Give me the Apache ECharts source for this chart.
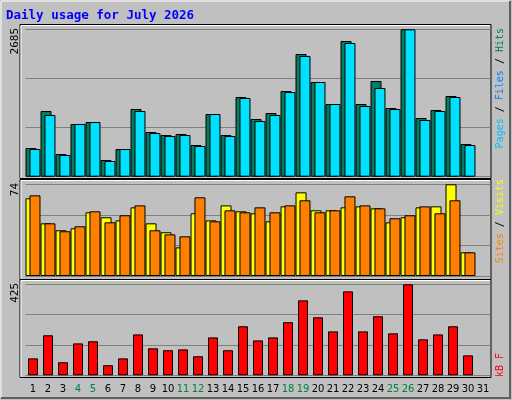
<!DOCTYPE html>
<html><head><meta charset="utf-8">
<script src="https://cdn.jsdelivr.net/npm/echarts@6/dist/echarts.min.js"></script>
<style>html,body{margin:0;padding:0;background:#c0c0c0}#c{width:512px;height:400px}</style>
</head><body><div id="c"></div>
<script>
const days = Array.from({length:31},(_,i)=>String(i+1));
const weekendDays = ['4','5','11','12','18','19','25','26'];
const hits  = [522,1197,413,960,996,304,504,1233,814,759,778,577,1142,759,1452,1051,1160,1561,2235,1725,1324,2472,1324,1743,1251,2685,1069,1215,1470,595,null];
const files = [504,1124,395,960,996,286,504,1197,796,741,759,559,1142,741,1434,1014,1124,1543,2199,1725,1324,2436,1288,1616,1233,2685,1033,1197,1452,577,null];
const visits= [62.7,42.5,36.9,38.5,51.4,47.4,44.9,55.4,42.5,35.3,23.1,50.6,44.9,57,52.2,50.6,44.1,56.2,67.5,53,53,55.4,56.2,54.6,43.3,47.4,55.4,56.2,74,19.1,null];
const sites = [65.1,42.5,36.1,40.1,52.2,43.3,49,57,36.9,33.6,32,63.5,44.1,53,51.4,55.4,51.4,57,61.1,51.4,53,64.3,57,54.6,46.6,49,56.2,50.6,61.1,19.1,null];
const kbytes= [79,187,61,149,159,47,79,191,126,117,121,89,177,117,229,163,177,248,350,271,205,392,205,276,196,425,168,191,229,93,null];
const maxTop = 2685, maxMid = 74, maxBot = 425;

const chart = echarts.init(document.getElementById('c'));
const L = 25.5, R = 512-490.5;
const grids = [
  {left:L, right:R, top:29.3, height:147.4},
  {left:L, right:R, top:184.3, height:91.7},
  {left:L, right:R, top:284.3, height:91}
];
const mkX = (i, show) => ({type:'category', gridIndex:i, data:days, boundaryGap:true,
  axisLine:{show:false}, axisTick:{show:false},
  axisLabel:{show:show, interval:0, margin:9, fontFamily:'DejaVu Sans', fontSize:10,
    color:(v)=>weekendDays.includes(v)?'#008040':'#000'}});
const mkY = (i, max) => ({type:'value', gridIndex:i, min:0, max:max, interval:max/3,
  axisLabel:{show:false}, axisLine:{show:false}, axisTick:{show:false},
  splitLine:{show:true, lineStyle:{color:'#808080', width:1}}});
const bar = (name, data, color, xi, extra) => Object.assign({type:'bar', name, data, xAxisIndex:xi, yAxisIndex:xi,
  barWidth:11, itemStyle:{color, borderColor:'#000', borderWidth:1}, animation:false, silent:true}, extra||{});
const mono = 'DejaVu Sans Mono';
chart.setOption({
  backgroundColor:'#c0c0c0',
  animation:false,
  grid:grids,
  xAxis:[mkX(0,false), mkX(1,false), mkX(2,true)],
  yAxis:[mkY(0,maxTop), mkY(1,maxMid), mkY(2,maxBot)],
  series:[
    bar('Hits', hits, '#008060', 0, {barGap:'-64%'}),
    bar('Files', files, '#00e0ff', 0),
    bar('Visits', visits, '#ffff00', 1, {barGap:'-64%'}),
    bar('Sites', sites, '#ff8000', 1),
    bar('KB', kbytes, '#ff0000', 2, {barWidth:10})
  ],
  graphic:[
    {type:'rect', z:-10, shape:{x:1,y:1,width:509,height:397}, style:{fill:'none', stroke:'#ffffff', lineWidth:1}},
    {type:'polyline', z:-10, shape:{points:[[510,1],[510,398],[1,398]]}, style:{stroke:'#606060', lineWidth:2, fill:'none'}},
    {type:'rect', z:-5, shape:{x:20,y:24.5,width:471,height:154}, style:{fill:'none', stroke:'#000', lineWidth:1}},
    {type:'polyline', z:-5, shape:{points:[[21,178],[21,25.5],[490,25.5]]}, style:{fill:'none', stroke:'#fff', lineWidth:1}},
    {type:'rect', z:-5, shape:{x:20,y:179.5,width:471,height:100}, style:{fill:'none', stroke:'#000', lineWidth:1}},
    {type:'polyline', z:-5, shape:{points:[[21,279],[21,180.5],[490,180.5]]}, style:{fill:'none', stroke:'#fff', lineWidth:1}},
    {type:'rect', z:-5, shape:{x:20,y:279.5,width:471,height:98}, style:{fill:'none', stroke:'#000', lineWidth:1}},
    {type:'polyline', z:-5, shape:{points:[[21,377],[21,280.5],[490,280.5]]}, style:{fill:'none', stroke:'#fff', lineWidth:1}},
    {type:'text', x:6, y:9, style:{text:'Daily usage for July 2026', fill:'#0000ff', font:'bold 12.5px "DejaVu Sans Mono"'}},
    {type:'text', x:15, y:28, rotation:Math.PI/2, style:{text:String(maxTop), fill:'#000', font:'11px "DejaVu Sans Mono"', align:'right', verticalAlign:'middle'}},
    {type:'text', x:15, y:183, rotation:Math.PI/2, style:{text:String(maxMid), fill:'#000', font:'11px "DejaVu Sans Mono"', align:'right', verticalAlign:'middle'}},
    {type:'text', x:15, y:283, rotation:Math.PI/2, style:{text:String(maxBot), fill:'#000', font:'11px "DejaVu Sans Mono"', align:'right', verticalAlign:'middle'}},
    {type:'text', x:500, y:28, rotation:Math.PI/2, style:{text:'{p|Pages}{s| / }{f|Files}{s| / }{h|Hits}', align:'right', verticalAlign:'middle', font:'10px "DejaVu Sans Mono"',
      rich:{p:{fill:'#00c0ff',fontFamily:mono,fontSize:10}, f:{fill:'#0080ff',fontFamily:mono,fontSize:10}, h:{fill:'#008060',fontFamily:mono,fontSize:10}, s:{fill:'#000',fontFamily:mono,fontSize:10}}}},
    {type:'text', x:500, y:179, rotation:Math.PI/2, style:{text:'{a|Sites}{s| / }{b|Visits}', align:'right', verticalAlign:'middle', font:'10px "DejaVu Sans Mono"',
      rich:{a:{fill:'#ff8000',fontFamily:mono,fontSize:10}, b:{fill:'#ffff00',fontFamily:mono,fontSize:10}, s:{fill:'#000',fontFamily:mono,fontSize:10}}}},
    {type:'text', x:500, y:353, rotation:Math.PI/2, style:{text:'kB F', fill:'#ff0000', align:'right', verticalAlign:'middle', font:'10px "DejaVu Sans Mono"'}}
  ]
});
</script></body></html>
